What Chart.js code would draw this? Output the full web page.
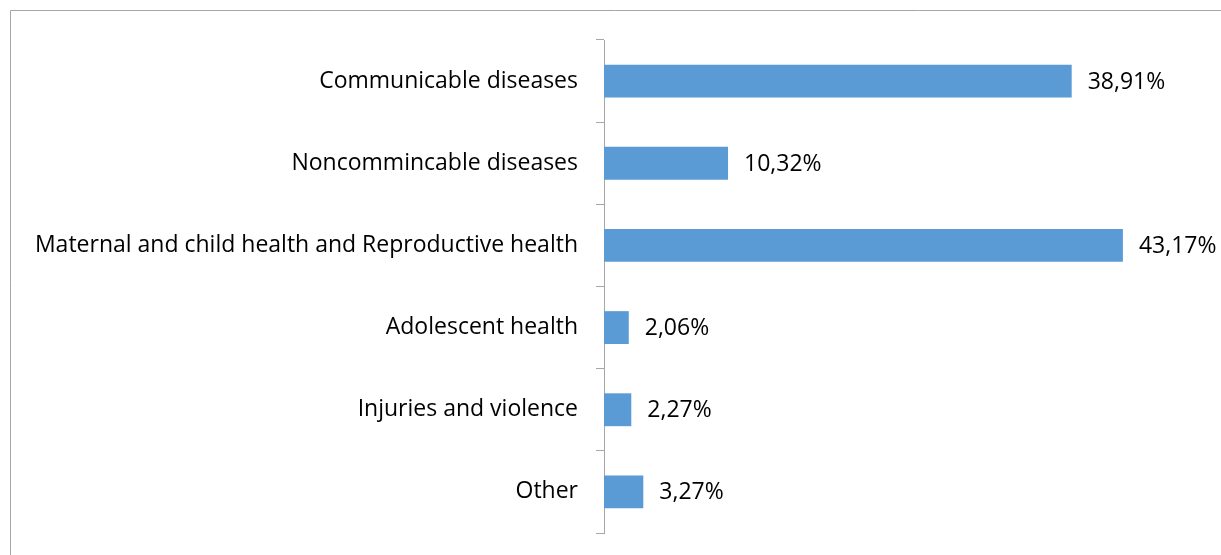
<!DOCTYPE html>
<html lang="en">
<head>
  <meta charset="UTF-8" />
  <title>Health areas</title>
  <script src="https://cdn.jsdelivr.net/npm/chart.js"></script>
  <style>
    html, body { margin: 0; padding: 0; background: #fff; }
    .wrap { width: 1221px; height: 555px; position: relative; }
  </style>
</head>
<body>
  <div class="wrap">
    <canvas id="areaChart" width="1221" height="555"></canvas>
  </div>

  <script>
    const categories = [
      'Communicable diseases',
      'Noncommincable diseases',
      'Maternal and child health and Reproductive health',
      'Adolescent health',
      'Injuries and violence',
      'Other'
    ];
    const shares = [38.91, 10.32, 43.17, 2.06, 2.27, 3.27];

    const FONT = '"Open Sans", Lato, sans-serif';

    // thin frame around the chart (left and top edges show)
    const frame = {
      id: 'frame',
      beforeDraw(chart) {
        const c = chart.ctx;
        c.save();
        c.fillStyle = '#fff';
        c.fillRect(0, 0, chart.width, chart.height);
        c.strokeStyle = '#a6a6a6';
        c.lineWidth = 1;
        c.beginPath();
        c.moveTo(10.5, chart.height);
        c.lineTo(10.5, 10.5);
        c.lineTo(chart.width, 10.5);
        c.stroke();
        c.restore();
      }
    };

    // percentage labels to the right of each bar
    const valueLabels = {
      id: 'valueLabels',
      afterDatasetsDraw(chart) {
        const c = chart.ctx;
        const meta = chart.getDatasetMeta(0);
        c.save();
        c.font = '23px ' + FONT;
        c.fillStyle = '#000';
        c.textAlign = 'left';
        c.textBaseline = 'middle';
        meta.data.forEach((bar, i) => {
          const txt = shares[i].toFixed(2).replace('.', ',') + '%';
          c.fillText(txt, bar.x + 16, bar.y + 1);
        });
        c.restore();
      }
    };

    new Chart(document.getElementById('areaChart'), {
      type: 'bar',
      data: {
        labels: categories,
        datasets: [{
          data: shares,
          backgroundColor: '#5b9bd5',
          borderWidth: 0,
          barPercentage: 0.8,
          categoryPercentage: 0.5
        }]
      },
      options: {
        indexAxis: 'y',
        responsive: false,
        animation: false,
        layout: { padding: { top: 40, bottom: 22, right: 16, left: 0 } },
        plugins: { legend: { display: false }, tooltip: { enabled: false } },
        scales: {
          x: { display: false, min: 0, max: 50 },
          y: {
            afterFit(scale) {
              scale.width = 604;
              // labels sit inside their bands, no extra room needed above/below
              scale.paddingTop = 0;
              scale.paddingBottom = 0;
            },
            border: { color: '#a6a6a6', width: 1 },
            grid: { drawOnChartArea: false, drawTicks: true, tickLength: 8, color: '#a6a6a6' },
            ticks: { color: '#000', padding: 18, font: { family: FONT, size: 23 } }
          }
        }
      },
      plugins: [frame, valueLabels]
    });
  </script>
</body>
</html>
